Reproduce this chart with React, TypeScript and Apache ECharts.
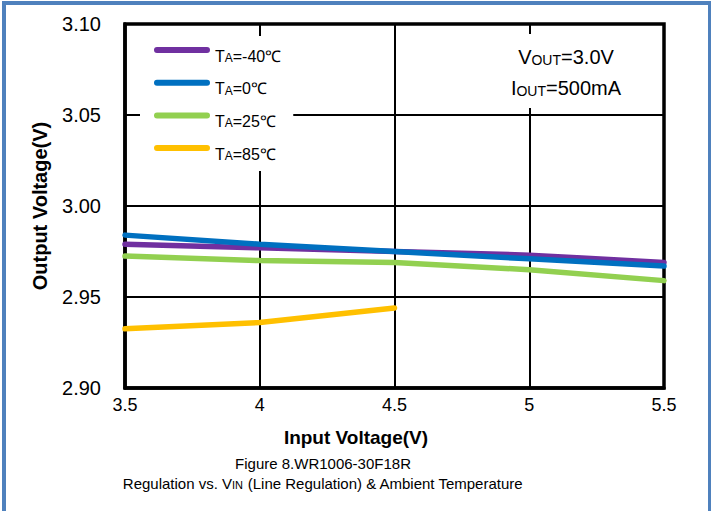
import React, { useEffect, useRef } from "react";
import * as echarts from "echarts";

const inputVoltage = [3.5, 4, 4.5, 5, 5.5];
const seriesNames = ["TA=-40℃", "TA=0℃", "TA=25℃", "TA=85℃"];
const legendLabels = ["=-40℃", "=0℃", "=25℃", "=85℃"];
const ta_m40 = [2.979, 2.977, 2.975, 2.973, 2.969];
const ta_0 = [2.984, 2.979, 2.975, 2.971, 2.967];
const ta_25 = [2.9725, 2.970, 2.969, 2.965, 2.959];
const ta_85 = [2.9325, 2.936, 2.944];
const seriesColors = ["#7030A0", "#0070C0", "#92D050", "#FFC000"];
const yTicks = [2.9, 3.1, 0.05];

export default function App() {
  const ref = useRef<HTMLDivElement>(null);
  useEffect(() => {
    if (!ref.current) return;
    const chart = echarts.init(ref.current, null, { renderer: "svg" });
    const allData = [ta_m40, ta_0, ta_25, ta_85];
    const font = "Liberation Sans, Arial, sans-serif";
    chart.setOption({
      animation: false,
      backgroundColor: "#ffffff",
      textStyle: { fontFamily: font },
      grid: {
        left: 125,
        right: 47,
        top: 24,
        bottom: 123,
        show: true,
        borderColor: "#000",
        borderWidth: 3.5,
        backgroundColor: "transparent",
        z: 3,
      },
      xAxis: {
        type: "value",
        min: 3.5,
        max: 5.5,
        interval: 0.5,
        axisLine: { show: true, lineStyle: { color: "#000", width: 3.5 } },
        axisTick: { show: false },
        splitLine: { show: true, lineStyle: { color: "#000", width: 2 } },
        axisLabel: { color: "#000", fontSize: 18, margin: 8, fontFamily: font },
      },
      yAxis: {
        type: "value",
        min: yTicks[0],
        max: yTicks[1],
        interval: yTicks[2],
        axisLine: { show: true, lineStyle: { color: "#000", width: 3.5 } },
        axisTick: { show: false },
        splitLine: { show: true, lineStyle: { color: "#000", width: 2 } },
        axisLabel: {
          color: "#000",
          fontSize: 20,
          margin: 24,
          fontFamily: font,
          formatter: (v: number) => v.toFixed(2),
        },
      },
      legend: {
        orient: "vertical",
        left: 140,
        top: 36,
        padding: [11, 12, 8, 14],
        backgroundColor: "#fff",
        itemWidth: 56,
        itemHeight: 18,
        itemGap: 14.7,
        icon: "path://M3,0h50a3,3 0 0 1 0,6h-50a3,3 0 0 1 0,-6z M0,17.9h0.1v0.1h-0.1z",
        data: seriesNames,
        formatter: (name: string) => {
          const i = seriesNames.indexOf(name);
          return "{t|T}{s|A}{t|" + legendLabels[i] + "}";
        },
        textStyle: {
          color: "#000",
          rich: {
            t: { fontSize: 16, color: "#000", fontFamily: font },
            s: { fontSize: 12, color: "#000", fontFamily: font, verticalAlign: "bottom" },
          },
        },
      },
      series: allData.map((d, i) => ({
        name: seriesNames[i],
        type: "line",
        data: d.map((v, j) => [inputVoltage[j], v]),
        showSymbol: false,
        symbol: "none",
        lineStyle: { color: seriesColors[i], width: 5.5, cap: "round" },
        itemStyle: { color: seriesColors[i] },
        z: 4,
      })),
      graphic: [
        { type: "rect", shape: { x: 2, y: 1, width: 4, height: 510 }, style: { fill: "#4F81BD" } },
        { type: "rect", shape: { x: 2, y: 1, width: 709, height: 4 }, style: { fill: "#4F81BD" } },
        { type: "rect", shape: { x: 708, y: 1, width: 3, height: 510 }, style: { fill: "#4F81BD" } },
        { type: "rect", shape: { x: 477, y: 34, width: 180, height: 74 }, style: { fill: "#fff" }, z: 5 },
        {
          type: "text",
          x: 566,
          y: 57,
          z: 6,
          style: {
            text: "{b|V}{s|OUT}{b|=3.0V}",
            align: "center",
            verticalAlign: "middle",
            rich: {
              b: { fontSize: 20, fill: "#000", fontFamily: font },
              s: { fontSize: 14, fill: "#000", fontFamily: font, verticalAlign: "bottom", padding: [6, 0, 0, 0] },
            },
          },
        },
        {
          type: "text",
          x: 566,
          y: 88,
          z: 6,
          style: {
            text: "{b|I}{s|OUT}{b|=500mA}",
            align: "center",
            verticalAlign: "middle",
            rich: {
              b: { fontSize: 20, fill: "#000", fontFamily: font },
              s: { fontSize: 14, fill: "#000", fontFamily: font, verticalAlign: "bottom", padding: [6, 0, 0, 0] },
            },
          },
        },
        {
          type: "text",
          x: 40,
          y: 206,
          rotation: Math.PI / 2,
          style: {
            text: "Output Voltage(V)",
            align: "center",
            verticalAlign: "middle",
            fontSize: 20,
            fontWeight: "bold",
            fill: "#000",
            fontFamily: font,
          },
        },
        {
          type: "text",
          x: 356,
          y: 437,
          style: {
            text: "Input Voltage(V)",
            align: "center",
            verticalAlign: "middle",
            fontSize: 19,
            fontWeight: "bold",
            fill: "#000",
            fontFamily: font,
          },
        },
        {
          type: "text",
          x: 323,
          y: 463,
          style: {
            text: "Figure 8.WR1006-30F18R",
            align: "center",
            verticalAlign: "middle",
            fontSize: 15,
            fill: "#000",
            fontFamily: font,
          },
        },
        {
          type: "text",
          x: 323,
          y: 483,
          style: {
            text: "{n|Regulation vs. V}{s|IN}{n| (Line Regulation) & Ambient Temperature}",
            align: "center",
            verticalAlign: "middle",
            rich: {
              n: { fontSize: 15, fill: "#000", fontFamily: font },
              s: { fontSize: 11, fill: "#000", fontFamily: font, verticalAlign: "bottom", padding: [4, 0, 0, 0] },
            },
          },
        },
      ],
    });
    return () => chart.dispose();
  }, []);
  return (
    <div
      ref={ref}
      style={{ position: "fixed", left: 0, top: 0, width: 711, height: 511 }}
    />
  );
}
